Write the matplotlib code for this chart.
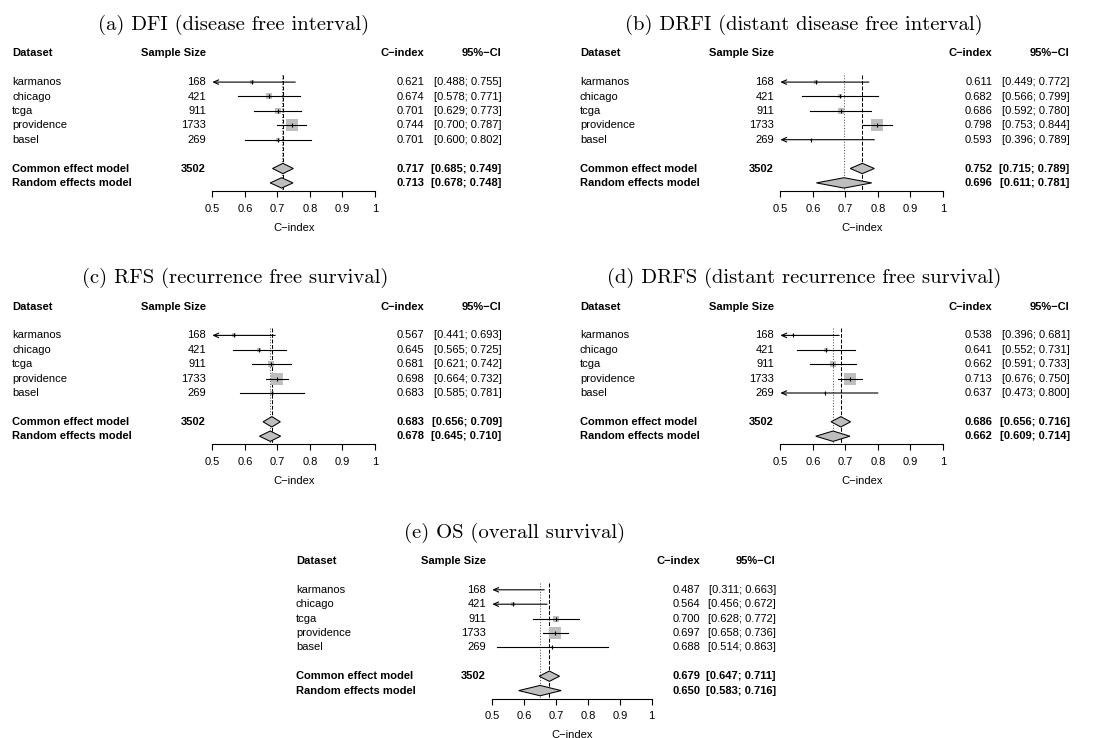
import numpy as np
import matplotlib.pyplot as plt
from matplotlib.patches import Polygon

plt.rcParams['font.family'] = ['Liberation Sans', 'DejaVu Sans']

## Datos
datasets    = ['karmanos', 'chicago', 'tcga', 'providence', 'basel']
sample_size = [168, 421, 911, 1733, 269]
total_n     = 3502

titles = ['(a) DFI (disease free interval)',
          '(b) DRFI (distant disease free interval)',
          '(c) RFS (recurrence free survival)',
          '(d) DRFS (distant recurrence free survival)',
          '(e) OS (overall survival)']

cindex = [[0.621, 0.674, 0.701, 0.744, 0.701],
          [0.611, 0.682, 0.686, 0.798, 0.593],
          [0.567, 0.645, 0.681, 0.698, 0.683],
          [0.538, 0.641, 0.662, 0.713, 0.637],
          [0.487, 0.564, 0.700, 0.697, 0.688]]
ci_lo  = [[0.488, 0.578, 0.629, 0.700, 0.600],
          [0.449, 0.566, 0.592, 0.753, 0.396],
          [0.441, 0.565, 0.621, 0.664, 0.585],
          [0.396, 0.552, 0.591, 0.676, 0.473],
          [0.311, 0.456, 0.628, 0.658, 0.514]]
ci_hi  = [[0.755, 0.771, 0.773, 0.787, 0.802],
          [0.772, 0.799, 0.780, 0.844, 0.789],
          [0.693, 0.725, 0.742, 0.732, 0.781],
          [0.681, 0.731, 0.733, 0.750, 0.800],
          [0.663, 0.672, 0.772, 0.736, 0.863]]

## [est, lo, hi]
common_eff = [[0.717, 0.685, 0.749],
              [0.752, 0.715, 0.789],
              [0.683, 0.656, 0.709],
              [0.686, 0.656, 0.716],
              [0.679, 0.647, 0.711]]
random_eff = [[0.713, 0.678, 0.748],
              [0.696, 0.611, 0.781],
              [0.678, 0.645, 0.710],
              [0.662, 0.609, 0.714],
              [0.650, 0.583, 0.716]]

xticks      = [0.5, 0.6, 0.7, 0.8, 0.9, 1.0]
xticklabels = ['0.5', '0.6', '0.7', '0.8', '0.9', '1']

## Layout (pixeles dentro de cada panel)
W, H    = 1102, 738
row_h   = 14.4
x05     = 212.3
x10     = 375.0
y_head  = 53.3
y_axis  = 191.0
y_title = 30.0
panels  = [(0, 0, 1.0), (568, 0, 1.0), (0, 253.3, 1.0), (568, 253.3, 1.0), (284.2, 507.7, 0.98)]
title_x = [234.0, 236.0, 235.0, 236.0, 235.0]

col_dataset = 12.0
col_n       = 206.0
col_c       = 424.3
col_ci      = 501.7
sq_max_px   = 11.5
grey        = '#bebebe'


def xf(px):
    return (px - x05) / (x10 - x05)


fig = plt.figure(figsize=(W / 100, H / 100), dpi=100)

for k in range(5):
    x0, y0, s = panels[k]
    top_px = y_head - 0.5 * row_h
    ax = fig.add_axes([(x0 + x05 * s) / W, 1 - (y0 + y_axis) / H,
                       (x10 - x05) * s / W, (y_axis - top_px) / H])
    ax.set_xlim(0.5, 1.0)
    ax.set_ylim((y_axis - y_head) / row_h, -0.5)
    for sp in ['top', 'left', 'right']:
        ax.spines[sp].set_visible(False)
    ax.spines['bottom'].set_linewidth(0.8)
    ax.set_yticks([])
    ax.set_xticks(xticks)
    ax.set_xticklabels(xticklabels)
    ax.tick_params(axis='x', direction='out', length=4.5, width=0.8, pad=4.5, labelsize=8)
    ax.set_xlabel('C\u2212index', fontsize=8, labelpad=6.5)
    ax.patch.set_visible(False)

    tr = ax.get_yaxis_transform()
    ybot = (y_axis - y_head) / row_h

    ## titulo
    ax.text(xf(title_x[k]), (y_title - y_head) / row_h, titles[k], transform=tr,
            ha='center', va='baseline', fontfamily='cmr10', fontsize=14.9)

    ## encabezado
    ax.text(xf(col_dataset), 0, 'Dataset', transform=tr, ha='left', va='center', fontsize=8, fontweight='bold')
    ax.text(xf(col_n), 0, 'Sample Size', transform=tr, ha='right', va='center', fontsize=8, fontweight='bold')
    ax.text(xf(col_c), 0, 'C\u2212index', transform=tr, ha='right', va='center', fontsize=8, fontweight='bold')
    ax.text(xf(col_ci), 0, '95%\u2212CI', transform=tr, ha='right', va='center', fontsize=8, fontweight='bold')

    ## lineas de referencia
    ax.plot([common_eff[k][0]] * 2, [1.5, ybot], color='black', ls='--', lw=0.75, zorder=1, clip_on=False)
    ax.plot([random_eff[k][0]] * 2, [1.5, ybot], color='#555555', ls=':', lw=0.75, zorder=1, clip_on=False)

    est = np.array(cindex[k])
    lo  = np.array(ci_lo[k])
    hi  = np.array(ci_hi[k])
    se  = (hi - lo) / (2 * 1.96)
    w   = 1 / se ** 2
    side = sq_max_px * np.sqrt(w / w.max()) * 0.72

    for i in range(5):
        y = 2 + i
        ax.text(xf(col_dataset), y, datasets[i], transform=tr, ha='left', va='center', fontsize=8)
        ax.text(xf(col_n), y, str(sample_size[i]), transform=tr, ha='right', va='center', fontsize=8)
        ax.text(xf(col_c), y, '%.3f' % est[i], transform=tr, ha='right', va='center', fontsize=8)
        ax.text(xf(col_ci), y, '[%.3f; %.3f]' % (lo[i], hi[i]), transform=tr, ha='right', va='center', fontsize=8)

        if 0.5 <= est[i] <= 1.0:
            ax.plot(est[i], y, marker='s', markersize=side[i], color=grey, mew=0, ls='none', zorder=2)
            ax.plot(est[i], y, marker='|', markersize=3.5, color='black', mew=0.8, ls='none', zorder=4)

        if lo[i] < 0.5:
            ax.annotate('', xy=(0.5, y), xytext=(min(hi[i], 1.0), y),
                        arrowprops=dict(arrowstyle='->,head_length=0.45,head_width=0.2', lw=0.8,
                                        color='black', shrinkA=0, shrinkB=0, mutation_scale=8),
                        zorder=3)
        else:
            ax.plot([lo[i], min(hi[i], 1.0)], [y, y], color='black', lw=0.8, zorder=3)

    ## modelos
    for y, lab, eff in [(8, 'Common effect model', common_eff[k]), (9, 'Random effects model', random_eff[k])]:
        e, l, h = eff
        d = 0.36
        ax.add_patch(Polygon([[l, y], [e, y - d], [h, y], [e, y + d]], closed=True,
                             facecolor=grey, edgecolor='black', lw=0.75, zorder=3, clip_on=False))
        ax.text(xf(col_dataset), y, lab, transform=tr, ha='left', va='center', fontsize=8, fontweight='bold')
        ax.text(xf(col_c), y, '%.3f' % e, transform=tr, ha='right', va='center', fontsize=8, fontweight='bold')
        ax.text(xf(col_ci), y, '[%.3f; %.3f]' % (l, h), transform=tr, ha='right', va='center', fontsize=8, fontweight='bold')
    ax.text(xf(col_n), 8, str(total_n), transform=tr, ha='right', va='center', fontsize=8, fontweight='bold')

fig.savefig('out.png', dpi=100)
